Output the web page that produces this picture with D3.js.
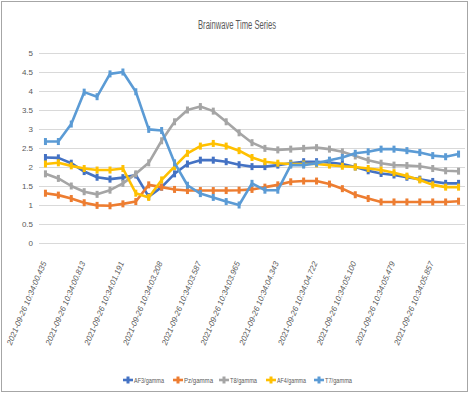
<!DOCTYPE html>
<html>
<head>
<meta charset="utf-8">
<script src="https://cdn.jsdelivr.net/npm/d3@7"></script>
<style>
  body { margin: 0; background: #fff; }
  svg text { font-family: "Liberation Sans", "Roboto", "DejaVu Sans", sans-serif; fill: #595959; }
</style>
</head>
<body>
<svg width="471" height="394"></svg>
<script>
// times along the category axis (every point has one, only every 3rd is shown)
var labels = [
  "2021-09-26 10:34:00.435", "", "",
  "2021-09-26 10:34:00.813", "", "",
  "2021-09-26 10:34:01.191", "", "",
  "2021-09-26 10:34:03.208", "", "",
  "2021-09-26 10:34:03.587", "", "",
  "2021-09-26 10:34:03.965", "", "",
  "2021-09-26 10:34:04.343", "", "",
  "2021-09-26 10:34:04.722", "", "",
  "2021-09-26 10:34:05.100", "", "",
  "2021-09-26 10:34:05.479", "", "",
  "2021-09-26 10:34:05.857", "", ""
].slice(0, 33);

var seriesNames = ["AF3/gamma", "Pz/gamma", "T8/gamma", "AF4/gamma", "T7/gamma"];
var seriesColors = ["#4472c4", "#ed7d31", "#a5a5a5", "#ffc000", "#5b9bd5"];

var af3 = [2.25, 2.24, 2.1, 1.88, 1.73, 1.68, 1.72, 1.79, 1.22, 1.47, 1.82, 2.08, 2.18, 2.18, 2.14, 2.06,
  2.01, 2.01, 2.05, 2.1, 2.14, 2.14, 2.12, 2.08, 2.0, 1.9, 1.83, 1.79, 1.73, 1.68, 1.62, 1.57, 1.57];
var pz = [1.31, 1.26, 1.17, 1.06, 0.99, 0.98, 1.03, 1.09, 1.53, 1.47, 1.41, 1.38, 1.38, 1.38, 1.38, 1.39,
  1.41, 1.47, 1.53, 1.61, 1.63, 1.63, 1.55, 1.43, 1.27, 1.17, 1.08, 1.08, 1.08, 1.08, 1.08, 1.08, 1.1];
var t8 = [1.82, 1.7, 1.5, 1.35, 1.28, 1.39, 1.57, 1.82, 2.11, 2.69, 3.19, 3.5, 3.59, 3.47, 3.19, 2.9,
  2.64, 2.49, 2.45, 2.47, 2.49, 2.51, 2.47, 2.4, 2.29, 2.18, 2.1, 2.05, 2.04, 2.02, 1.96, 1.9, 1.89];
var af4 = [2.08, 2.11, 2.03, 1.96, 1.92, 1.92, 1.96, 1.31, 1.2, 1.66, 2.01, 2.36, 2.55, 2.62, 2.55, 2.43,
  2.25, 2.14, 2.1, 2.08, 2.08, 2.08, 2.05, 2.02, 2.0, 1.96, 1.92, 1.85, 1.76, 1.66, 1.53, 1.47, 1.47];
var t7 = [2.67, 2.67, 3.13, 3.97, 3.85, 4.45, 4.5, 3.98, 2.99, 2.96, 2.11, 1.52, 1.3, 1.2, 1.09, 1.0,
  1.57, 1.39, 1.39, 2.05, 2.05, 2.1, 2.18, 2.25, 2.36, 2.4, 2.47, 2.47, 2.43, 2.38, 2.3, 2.27, 2.34];

var yTicks = [0, 0.5, 1, 1.5, 2, 2.5, 3, 3.5, 4, 4.5, 5];

var svg = d3.select("svg"),
    margin = {top: 53, left: 39, right: 6, bottom: 151},
    width = +svg.attr("width") - margin.left - margin.right,
    height = +svg.attr("height") - margin.top - margin.bottom;

// outer chart border
svg.append("rect")
    .attr("x", 1.5).attr("y", 1.5)
    .attr("width", 466).attr("height", 390)
    .attr("fill", "none").attr("stroke", "#a6a6a6").attr("stroke-width", 1);

svg.append("text")
    .attr("x", 198).attr("y", 29)
    .attr("textLength", 78).attr("lengthAdjust", "spacingAndGlyphs")
    .style("font-size", "12px")
    .text("Brainwave Time Series");

var g = svg.append("g").attr("transform", "translate(" + margin.left + "," + margin.top + ")");

var idx = d3.range(labels.length);
var x = d3.scaleBand().domain(idx).range([0, width]);
var y = d3.scaleLinear().domain([0, 5]).range([height, 0]);

// gridlines
g.append("g")
    .selectAll("line")
    .data(yTicks)
    .join("line")
    .attr("x1", 0).attr("x2", width)
    .attr("y1", function(d) { return y(d) + 0.5; })
    .attr("y2", function(d) { return y(d) + 0.5; })
    .attr("stroke", "#d9d9d9").attr("stroke-width", 1);

var yAxis = g.append("g")
    .call(d3.axisLeft(y).tickValues(yTicks).tickSize(0).tickPadding(6).tickFormat(d3.format("")));
yAxis.select(".domain").remove();
yAxis.selectAll("text").style("font-size", "8px").attr("fill", "#7f7f7f");

var xAxis = g.append("g")
    .attr("transform", "translate(0," + height + ")")
    .call(d3.axisBottom(x).tickSize(0).tickFormat(function(i) { return labels[i]; }));
xAxis.select(".domain").remove();
xAxis.selectAll("text")
    .style("font-size", "8px")
    .style("font-style", "italic")
    .attr("fill", "#7f7f7f")
    .attr("text-anchor", "end")
    .attr("dy", "0.3em")
    .attr("transform", "translate(-1,19) rotate(-67)")
    .attr("y", 0).attr("x", 0);

var allSeries = [af3, pz, t8, af4, t7];
var line = d3.line()
    .x(function(d, i) { return x(i) + x.bandwidth() / 2; })
    .y(function(d) { return y(d); });

allSeries.forEach(function(vals, k) {
    var s = g.append("g");
    s.append("path")
        .datum(vals)
        .attr("fill", "none")
        .attr("stroke", seriesColors[k])
        .attr("stroke-width", 2.6)
        .attr("stroke-linejoin", "round")
        .attr("d", line);
    s.selectAll("rect")
        .data(vals)
        .join("rect")
        .attr("x", function(d, i) { return x(i) + x.bandwidth() / 2 - 1.5; })
        .attr("y", function(d) { return y(d) - 3.5; })
        .attr("width", 3).attr("height", 7)
        .attr("fill", seriesColors[k]);
});

// legend
var legendX = [123, 173, 219, 266, 314];
var legendW = [30, 29, 27, 29, 27];
var legend = svg.append("g").attr("transform", "translate(0,380)");
seriesNames.forEach(function(name, k) {
    var it = legend.append("g").attr("transform", "translate(" + legendX[k] + ",0)");
    it.append("line").attr("x1", 0).attr("x2", 10).attr("y1", 0).attr("y2", 0)
        .attr("stroke", seriesColors[k]).attr("stroke-width", 2.6);
    it.append("rect").attr("x", 3.5).attr("y", -3.5).attr("width", 3).attr("height", 7)
        .attr("fill", seriesColors[k]);
    it.append("text").attr("x", 11).attr("y", 3)
        .attr("textLength", legendW[k]).attr("lengthAdjust", "spacingAndGlyphs")
        .style("font-size", "8px").text(name);
});
</script>
</body>
</html>
